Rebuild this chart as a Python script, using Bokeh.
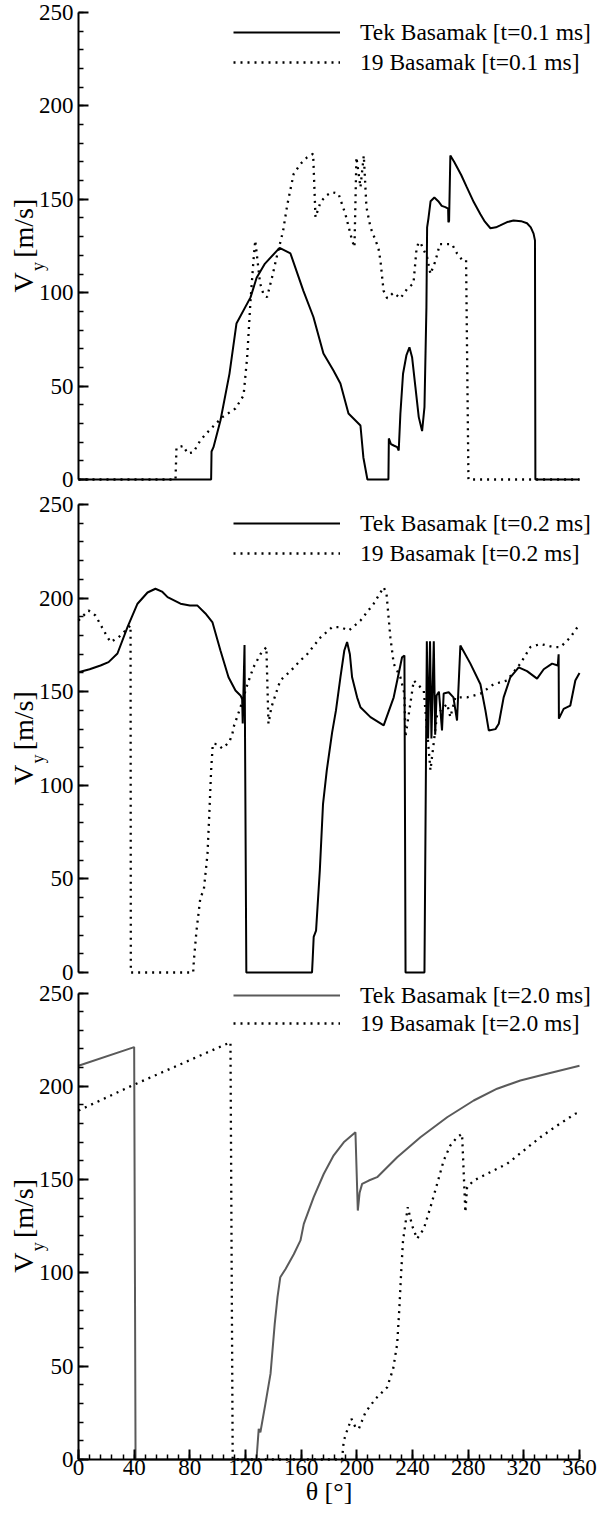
from bokeh.plotting import figure
from bokeh.models import Range1d, FixedTicker, Legend, LegendItem, Label, LinearAxis
from bokeh.embed import file_html
from bokeh.resources import INLINE

# ---------------- data ----------------
x_ticks = [0, 40, 80, 120, 160, 200, 240, 280, 320, 360]
y_ticks = [0, 50, 100, 150, 200, 250]

# Panel 1: t = 0.1 ms
t1_tek_theta = [0, 95.3, 95.6, 97, 102, 108.5, 113.5, 123.6, 128, 134, 144.5, 152.3, 161.6, 168.8,
                176, 183.2, 188.2, 194, 202.6, 204.7, 207.6, 222.7, 223, 224.5, 226.5, 229, 230.1,
                231.3, 233.2, 235.6, 237.8, 239.7, 242.1, 244.5, 246.9, 248.6, 250, 250.5, 251.5,
                253, 255.7, 258.5, 261, 263.6, 265.6, 265.8, 266.3, 267.2, 270, 275, 279, 284,
                288.8, 292, 296, 300, 303, 308, 312.6, 318, 322.3, 325, 327, 328, 328.3, 360]
t1_tek_v = [0, 0, 15, 17.3, 31.6, 56.7, 83.5, 97.5, 108, 115.6, 124, 121, 101, 87,
            67.4, 58.3, 51.4, 35.3, 28.9, 11.8, 0, 0, 22, 19, 18.2, 17.3, 15.5,
            35.3, 56.6, 66.4, 70.8, 65.5, 49.4, 33.4, 25.9, 38.7, 92, 135, 140,
            149, 151, 149, 146.5, 145.8, 145, 137.7, 138.5, 173.4, 170, 163, 156.5, 148.5,
            142, 138, 134.5, 135, 136, 137.8, 138.6, 138.3, 137.2, 135, 131.6, 128, 0, 0]

t1_19_theta = [0, 69.7, 70.4, 75.4, 78.3, 82.6, 87.6, 93.6, 103.4, 112.8, 118.6, 121.2, 123.6,
               125.7, 127, 128.5, 130.5, 133, 135.5, 139, 142.7, 147, 150, 154.6, 159.6, 164.3,
               168.6, 170.3, 173.9, 178, 182.2, 186.8, 191.8, 196.6, 198.3, 199.7, 202.6, 205,
               206.9, 209.8, 215.5, 217, 219.2, 221.8, 226.4, 231.3, 236.1, 240.7, 242.8, 244.3,
               246, 250.5, 252.9, 256.5, 259.6, 263.6, 268.4, 272, 275.6, 278.5, 280.2, 360]
t1_19_v = [0, 0, 17, 18, 14, 14.6, 21, 26, 33.4, 38, 45, 65.5, 95.8,
           117, 128, 118, 105, 99, 97.6, 108, 120, 133, 147, 163.6, 169, 172.5,
           174.4, 140.4, 148.4, 152, 153.8, 153, 142, 128, 124.4, 172.5, 156.5, 173.4,
           145.8, 135, 124, 117, 101, 97, 100, 97, 102, 105, 122.6, 127,
           126.3, 119, 110, 117, 126, 126, 126, 121, 117.6, 117.6, 0, 0]

# Panel 2: t = 0.2 ms
t2_tek_theta = [0, 8, 15.8, 21.6, 28, 35.2, 42.4, 49.6, 55.3, 60, 64, 73.3, 80, 85.5, 91.2, 96.3,
                102, 107.8, 112.8, 116.4, 117.6, 118, 119.3, 120.6, 167.8, 168.3, 169, 170.7,
                173.4, 175.7, 178.4, 182.2, 185, 188.2, 191, 193, 195, 196.6, 200.2, 202.6, 209.8,
                219.3, 226.5, 232.5, 234.2, 235, 248.6, 250.3, 251.2, 252.6, 253.6, 255.3, 256.3,
                257.3, 259, 261.2, 262.4, 266, 269.4, 272, 274.4, 281.6, 288.8, 292.4, 294.8,
                299.6, 302, 305.5, 310.3, 316.3, 322.3, 329.5, 334.3, 340.3, 344.4, 345, 345.2,
                348.6, 353.4, 357, 360]
t2_tek_v = [160.4, 162, 164, 165.8, 170.4, 184.5, 197, 203, 205, 203.5, 200.5, 197, 196, 196, 191.8, 187,
            172, 157.7, 150.6, 148, 146, 133, 175, 0, 0, 7.5, 19, 22.4,
            54.5, 90, 108, 128, 140, 157.7, 172, 176.5, 170, 157.7, 147, 141.7, 136.4,
            132, 147, 168.4, 169.3, 0, 0, 177, 125, 177, 125, 177, 127,
            148, 150, 129.3, 149, 149.7, 147, 134.6, 174.7, 165, 154, 140, 129.3,
            130, 132.9, 147, 157.7, 163, 161, 157, 162, 165, 164, 170, 135.6,
            140.8, 142.6, 156, 160]

t2_19_theta = [0, 7.2, 12.2, 19.4, 23, 28.7, 33.8, 37.4, 37.6, 82.4, 82.9, 84.8, 87.6, 90, 92.7,
               94, 95.3, 96.5, 99.8, 103.2, 108.3, 110.6, 111.4, 116.4, 121.4, 125.7, 130.7, 135,
               136.5, 138.6, 145, 152.3, 159.5, 164.3, 173.9, 182.3, 188.2, 194.2, 202.6, 212.1,
               219.3, 221.3, 224.1, 226.5, 231.3, 234.2, 234.9, 240.9, 248.1, 250.5, 252.9,
               257.7, 264.9, 267.2, 270.8, 279.2, 288.8, 298.3, 307.9, 317.5, 324.7, 331.9,
               341.5, 346.3, 353.4, 359.4, 360]
t2_19_v = [188, 193.4, 190.7, 181, 176.5, 179, 182.7, 185.4, 0, 0, 6.4, 22.4, 40.2, 43.8, 63.4,
           84.8, 108, 122.2, 122, 119.7, 123, 127.5, 131, 141.7, 154, 163, 170, 173.8,
           132.9, 141.7, 156, 161, 166.7, 170, 179, 184.5, 184.5, 182.7, 188, 197,
           205.8, 202.5, 179, 165, 157.7, 148.9, 125.7, 156, 150.6, 129.3, 108,
           138, 143.5, 136.4, 147, 147, 148.9, 154, 156, 165, 173.8, 175.5,
           173.8, 173.8, 179, 185.4, 186]

# Panel 3: t = 2.0 ms
t3_tek_theta = [0, 40, 41, 127.9, 129.5, 130.7, 134.3, 138, 141, 143, 145, 148.7, 154.7, 159.5,
                161.9, 169, 176.2, 183.4, 190.6, 199, 200.7, 202, 203.8, 208.6, 214.6, 229, 245.7,
                264.9, 284, 300.8, 317.5, 336.7, 360]
t3_tek_v = [211, 221, 0, 0, 16.4, 14.6, 29.8, 46, 72.7, 87, 97.7, 102, 110, 117.4,
            126.3, 140.6, 153, 163, 170, 175.4, 133.4, 143, 147.7, 149.5, 151.3, 162, 172.7,
            183.4, 192.4, 198.7, 203.1, 206.7, 211]

t3_19_theta = [0, 39.7, 109.2, 110.8, 189.4, 189.6, 190.6, 193, 196.1, 199, 201.4, 206.2, 213.4,
               221.8, 226.1, 229, 230.6, 231.8, 233.2, 234.9, 236.6, 239.7, 243.3, 248.1, 252.9,
               257.7, 262.4, 267.2, 272, 275.6, 277, 278, 279.2, 284, 296, 308, 320, 331.9, 344,
               357, 360]
t3_19_v = [187, 200.8, 223.6, 0, 0, 2, 10, 15.5, 21.8, 17.3, 16.4, 25.3, 32.5,
           38.7, 48.6, 62, 81.6, 99.5, 117.4, 126.3, 135.2, 125.4, 118.3, 123.6, 135.2,
           147.7, 160.2, 168.3, 172.7, 174.5, 150, 132.5, 145.9, 149.5, 154, 158.5, 165.6, 172.7, 179,
           185.3, 186]

labels = [("Tek Basamak [t=0.1 ms]", "19 Basamak [t=0.1 ms]"),
          ("Tek Basamak [t=0.2 ms]", "19 Basamak [t=0.2 ms]"),
          ("Tek Basamak [t=2.0 ms]", "19 Basamak [t=2.0 ms]")]

# ---------------- layout constants (pixels) ----------------
FONT = "Liberation Serif"
W, H = 597, 1513
X0_PX, X360_PX = 78.0, 579.0
# (pixel row of V=0, pixel row of V=250, legend top pixel, legend row height, solid colour)
PANELS = [(479.0, 12.0, 17.0, 30, "black"),
          (972.0, 504.0, 508.3, 30, "black"),
          (1459.0, 992.5, 981.0, 28, "#5a5a5a")]

xs = (X360_PX - X0_PX) / 360.0


def yrange_for(y0_px, y250_px):
    s = (y0_px - y250_px) / 250.0
    return Range1d(-(H - y0_px) / s, 250 + y250_px / s), s


ranges = [yrange_for(pp[0], pp[1]) for pp in PANELS]

p = figure(width=W, height=H,
           x_range=Range1d(-X0_PX / xs, 360 + (W - X360_PX) / xs),
           y_range=ranges[2][0],
           output_backend="svg", toolbar_location=None, min_border=0)
p.extra_y_ranges = {"p1": ranges[0][0], "p2": ranges[1][0]}
p.outline_line_color = None
p.xgrid.visible = False
p.ygrid.visible = False
p.background_fill_color = "white"
p.border_fill_color = "white"


def style_axis(ax, ticks, minor):
    ax.ticker = FixedTicker(ticks=ticks, minor_ticks=minor)
    ax.fixed_location = 0
    ax.axis_line_width = 2
    ax.axis_line_color = "black"
    ax.major_tick_in = 10
    ax.major_tick_out = 0
    ax.minor_tick_in = 5
    ax.minor_tick_out = 0
    ax.major_tick_line_width = 2
    ax.minor_tick_line_width = 1.5
    ax.major_tick_line_color = "black"
    ax.minor_tick_line_color = "black"
    ax.major_label_text_font = FONT
    ax.major_label_text_font_size = "23px"
    ax.major_label_text_color = "black"


# bottom x axis (panel 3)
xa = p.xaxis[0]
style_axis(xa, x_ticks, list(range(0, 361, 8)))
xa.bounds = (0, 360)
xa.major_label_standoff = 0

# y axes
ya3 = p.yaxis[0]
style_axis(ya3, y_ticks, list(range(0, 251, 10)))
ya3.bounds = (0, 250)
ya3.major_label_standoff = 5
for name in ("p1", "p2"):
    ax = LinearAxis(y_range_name=name)
    style_axis(ax, y_ticks, list(range(0, 251, 10)))
    ax.bounds = (0, 250)
    ax.major_label_standoff = 5
    p.add_layout(ax, "left")

series = [((t1_tek_theta, t1_tek_v), (t1_19_theta, t1_19_v)),
          ((t2_tek_theta, t2_tek_v), (t2_19_theta, t2_19_v)),
          ((t3_tek_theta, t3_tek_v), (t3_19_theta, t3_19_v))]
range_names = ["p1", "p2", "default"]

for i, ((tek, nin), labs, pp, rn) in enumerate(zip(series, labels, PANELS, range_names)):
    y0_px, y250_px, leg_top, row_h, col = pp
    r_tek = p.line(tek[0], tek[1], line_color=col, line_width=2, y_range_name=rn)
    r_19 = p.line(nin[0], nin[1], line_color="black", line_width=2.3, line_dash="2 5",
                  y_range_name=rn)
    leg = Legend(items=[LegendItem(label=labs[0], renderers=[r_tek]),
                        LegendItem(label=labs[1], renderers=[r_19])],
                 location=(233, H - (leg_top + 2 * row_h)), orientation="vertical",
                 glyph_width=107, glyph_height=row_h, label_height=row_h, label_standoff=20,
                 padding=0, margin=0, spacing=0,
                 border_line_color=None, background_fill_alpha=0,
                 label_text_font=FONT, label_text_font_size="23.5px", label_text_color="black")
    p.add_layout(leg)

    # y-axis title: V_y [m/s]
    vx = (22.5 - X0_PX) / xs
    common = dict(angle=90, angle_units="deg", text_align="center", text_baseline="middle",
                  text_font=FONT, text_color="black", y_range_name=rn)
    p.add_layout(Label(x=vx, y=105.5, text="V", text_font_size="28px", **common))
    p.add_layout(Label(x=(37 - X0_PX) / xs, y=114, text="y", text_font_size="18px", **common))
    p.add_layout(Label(x=vx, y=134.5, text="[m/s]", text_font_size="28px", **common))

s3 = ranges[2][1]
p.add_layout(Label(x=180, y=-(1491 - 1459) / s3, text="θ [°]", text_align="center",
                   text_baseline="middle", text_font=FONT, text_font_size="26px",
                   text_color="black"))

open("out.html", "w").write(file_html(p, INLINE))
